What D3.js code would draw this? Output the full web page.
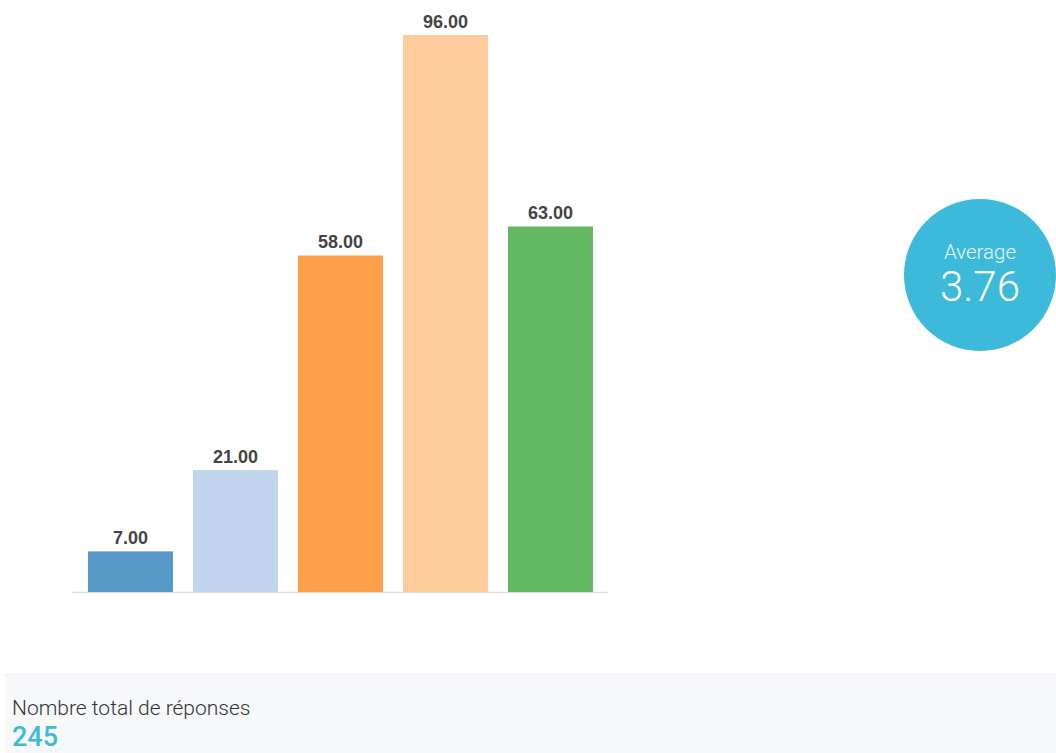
<!DOCTYPE html>
<html>
<head>
<meta charset="utf-8">
<script src="https://cdn.jsdelivr.net/npm/d3@7"></script>
<style>
  html, body { margin: 0; padding: 0; background: #ffffff; }
  svg { display: block; }
</style>
</head>
<body>
<svg id="chart" width="1056" height="753"></svg>
<script>
const categories = ["1", "2", "3", "4", "5"];
const values = [7, 21, 58, 96, 63];
const barColors = ["#5899c8", "#c1d5ee", "#fe9f4b", "#fecb9a", "#63b961"];
const averageLabel = "Average";
const averageValue = 3.76;
const totalLabel = "Nombre total de réponses";
const totalValue = 245;

const svg = d3.select("#chart");

const x = d3.scaleBand()
  .domain(categories)
  .range([78, 603])
  .paddingInner(20 / 105)
  .paddingOuter(10 / 105);

const y = d3.scaleLinear()
  .domain([0, d3.max(values)])
  .range([592, 35]);

// baseline axis line
svg.append("line")
  .attr("x1", 72).attr("x2", 608)
  .attr("y1", y(0) + 0.5).attr("y2", y(0) + 0.5)
  .attr("stroke", "#dcdfe4").attr("stroke-width", 1.5);

const data = categories.map((c, i) => ({ c, v: values[i], color: barColors[i] }));

svg.selectAll("rect.bar").data(data).enter().append("rect")
  .attr("class", "bar")
  .attr("x", d => x(d.c))
  .attr("y", d => y(d.v))
  .attr("width", x.bandwidth())
  .attr("height", d => y(0) - y(d.v))
  .attr("fill", d => d.color);

svg.selectAll("text.lbl").data(data).enter().append("text")
  .attr("class", "lbl")
  .attr("x", d => x(d.c) + x.bandwidth() / 2)
  .attr("y", d => y(d.v) - 7)
  .attr("text-anchor", "middle")
  .attr("font-family", "Liberation Sans, Arial, sans-serif")
  .attr("font-weight", "bold")
  .attr("font-size", 18)
  .attr("fill", "#444444")
  .text(d => d3.format(".2f")(d.v));

// average circle
svg.append("circle")
  .attr("cx", 980).attr("cy", 275).attr("r", 76)
  .attr("fill", "#3dbada");
svg.append("text")
  .attr("x", 980).attr("y", 259)
  .attr("text-anchor", "middle")
  .attr("font-family", "Roboto, sans-serif")
  .attr("font-weight", 300)
  .attr("font-size", 20.5)
  .attr("fill", "#e8f7fb")
  .text(averageLabel);
svg.append("text")
  .attr("x", 980).attr("y", 301)
  .attr("text-anchor", "middle")
  .attr("font-family", "Roboto, sans-serif")
  .attr("font-weight", 300)
  .attr("font-size", 42)
  .attr("fill", "#ffffff")
  .text(d3.format(".2f")(averageValue));

// bottom panel
svg.append("rect")
  .attr("x", 5).attr("y", 674).attr("width", 1051).attr("height", 79)
  .attr("fill", "#f7f8fa");
svg.append("line")
  .attr("x1", 5).attr("x2", 1056).attr("y1", 674.5).attr("y2", 674.5)
  .attr("stroke", "#eef0f3").attr("stroke-width", 1);
svg.append("text")
  .attr("x", 12).attr("y", 715)
  .attr("font-family", "Roboto, sans-serif")
  .attr("font-weight", 300)
  .attr("font-size", 21)
  .attr("fill", "#333333")
  .text(totalLabel);
svg.append("text")
  .attr("x", 12).attr("y", 746)
  .attr("font-family", "Roboto, sans-serif")
  .attr("font-weight", 500)
  .attr("font-size", 27)
  .attr("fill", "#3dbada")
  .text(totalValue);
</script>
</body>
</html>
